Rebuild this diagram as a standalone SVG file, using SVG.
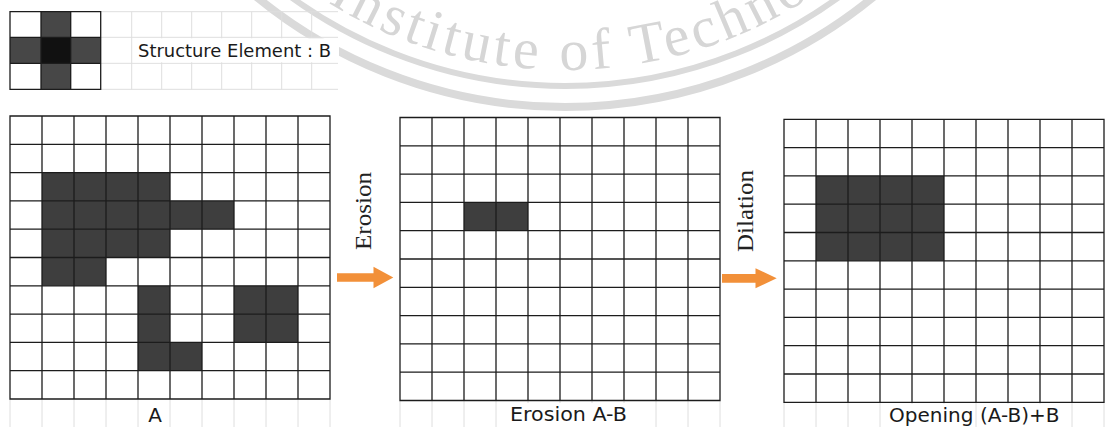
<svg xmlns="http://www.w3.org/2000/svg" width="1107" height="427" viewBox="0 0 1107 427">
  <style>
    .grid { fill: none; stroke: #1c1c1c; stroke-width: 1.3; }
    .cell { fill: #3e3e3e; }
    .faint { stroke: #dedede; stroke-width: 1; fill: none; }
    .label { font-family: "DejaVu Sans", Verdana, sans-serif; font-size: 20px; fill: #1a1a1a; }
    .op { font-family: "Liberation Serif", "Times New Roman", serif; font-size: 23px; fill: #222; }
    .arrow { fill: #F29039; }
    .wm-ring { fill: none; stroke: #dadada; }
    .wm-text { font-family: "Liberation Serif", "Times New Roman", serif; font-size: 58px; fill: #d6d6d6; letter-spacing: 4px; }
  </style>
  <defs>
    <!-- 10 x 10 grid, 32 x 28.3 cells -->
    <path id="grid10" class="grid" d="M0,0H320V283H0Z
      M32,0V283 M64,0V283 M96,0V283 M128,0V283 M160,0V283 M192,0V283 M224,0V283 M256,0V283 M288,0V283
      M0,28.3H320 M0,56.6H320 M0,84.9H320 M0,113.2H320 M0,141.5H320 M0,169.8H320 M0,198.1H320 M0,226.4H320 M0,254.7H320"/>
    <!-- light guide lines hanging under a grid -->
    <path id="guides" class="faint" d="M0,0V30 M32,0V30 M64,0V30 M96,0V30 M128,0V30 M160,0V30 M192,0V30 M224,0V30 M256,0V30 M288,0V30 M320,0V30"/>
    <!-- lower half of the seal circle, left to right -->
    <path id="wmArc" d="M115,-380 A450,450 0 0 0 1015,-380"/>
  </defs>

  <rect width="1107" height="427" fill="#ffffff"/>

  <!-- watermark seal -->
  <g id="watermark">
    <circle class="wm-ring" cx="565" cy="-380" r="487" stroke-width="8"/>
    <circle class="wm-ring" cx="565" cy="-380" r="466" stroke-width="6"/>
    <text class="wm-text"><textPath href="#wmArc" startOffset="457">Institute of Technology</textPath></text>
  </g>

  <!-- structuring element B -->
  <g id="structure-element">
    <path class="faint" d="M100,11.7H338 M100,37.3H338 M100,63.3H338 M100,89.3H338
      M131.7,11.7V89.3 M161.7,11.7V89.3 M191.7,11.7V89.3 M221.7,11.7V89.3 M251.7,11.7V89.3 M281.7,11.7V89.3 M311.7,11.7V89.3"/>
    <rect x="133" y="38.3" width="206" height="24" fill="#ffffff"/>
    <rect x="10" y="11.7" width="90.7" height="77.6" fill="#ffffff"/>
    <rect x="41" y="11.7" width="29.7" height="77.6" fill="#474747"/>
    <rect x="10" y="37.3" width="90.7" height="26" fill="#474747"/>
    <rect x="41" y="37.3" width="29.7" height="26" fill="#111111"/>
    <path class="grid" d="M10,11.7H100.7V89.3H10Z M41,11.7V89.3 M70.7,11.7V89.3 M10,37.3H100.7 M10,63.3H100.7"/>
    <text x="138" y="57" font-family="DejaVu Sans, Verdana, sans-serif" font-size="18" fill="#1a1a1a" textLength="193" lengthAdjust="spacingAndGlyphs">Structure Element : B</text>
  </g>

  <!-- input image A -->
  <g id="image-a">
    <use href="#guides" x="10" y="399"/>
    <rect x="139" y="403" width="30" height="24" fill="#ffffff"/>
    <g transform="translate(10,116)">
      <rect width="320" height="283" fill="#ffffff"/>
      <rect class="cell" x="32" y="56.6" width="128" height="84.9"/>
      <rect class="cell" x="160" y="84.9" width="64" height="28.3"/>
      <rect class="cell" x="32" y="141.5" width="64" height="28.3"/>
      <rect class="cell" x="128" y="169.8" width="32" height="84.9"/>
      <rect class="cell" x="160" y="226.4" width="32" height="28.3"/>
      <rect class="cell" x="224" y="169.8" width="64" height="56.6"/>
      <use href="#grid10"/>
    </g>
    <text class="label" x="155" y="421.5" text-anchor="middle">A</text>
  </g>

  <!-- erosion result -->
  <g id="erosion-result">
    <use href="#guides" x="400" y="401"/>
    <rect x="497.5" y="403" width="157" height="24" fill="#ffffff"/>
    <g transform="translate(400,117.5)">
      <rect width="320" height="283" fill="#ffffff"/>
      <rect class="cell" x="64" y="84.9" width="64" height="28.3"/>
      <use href="#grid10"/>
    </g>
    <text class="label" x="568.5" y="420.5" text-anchor="middle" textLength="117" lengthAdjust="spacingAndGlyphs">Erosion A-B</text>
  </g>

  <!-- opening result -->
  <g id="opening-result">
    <use href="#guides" x="784" y="402"/>
    <rect x="883" y="404" width="91.5" height="23" fill="#ffffff"/>
    <rect x="977" y="404" width="93" height="23" fill="#ffffff"/>
    <g transform="translate(784,119.3)">
      <rect width="320" height="283" fill="#ffffff"/>
      <rect class="cell" x="32" y="56.6" width="128" height="84.9"/>
      <use href="#grid10"/>
    </g>
    <text class="label" x="889" y="422">Opening</text>
    <text class="label" x="980" y="422">(A-B)+B</text>
  </g>

  <!-- operation arrows -->
  <g id="connectors">
    <g id="erosion-arrow">
      <path class="arrow" d="M337,273.3H373.5V266.7L393.3,277.5L373.5,288.3V281.7H337Z"/>
      <text class="op" transform="translate(370.5,211) rotate(-90)" text-anchor="middle" textLength="78" lengthAdjust="spacingAndGlyphs">Erosion</text>
    </g>
    <g id="dilation-arrow">
      <path class="arrow" d="M722,274H755.5V268.3L776.7,278.3L755.5,288.3V282.7H722Z"/>
      <text class="op" transform="translate(753,211) rotate(-90)" text-anchor="middle" textLength="82" lengthAdjust="spacingAndGlyphs">Dilation</text>
    </g>
  </g>
</svg>
